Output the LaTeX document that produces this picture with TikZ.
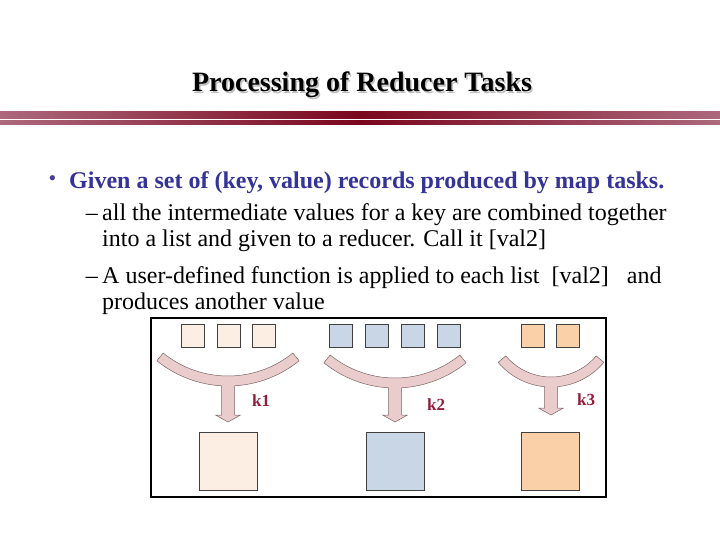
\documentclass[tikz,border=0pt]{standalone}
\usepackage{fontspec}
\setmainfont{Liberation Serif}
\definecolor{bluetext}{RGB}{51,51,153}
\definecolor{keyred}{RGB}{150,28,58}
\definecolor{peachlight}{RGB}{253,238,228}
\definecolor{steelblue}{RGB}{200,214,229}
\definecolor{peach}{RGB}{250,208,168}
\definecolor{funnelfill}{RGB}{234,204,204}
\definecolor{funneledge}{RGB}{125,100,100}
\definecolor{barmid}{RGB}{122,6,30}
\definecolor{baredge}{RGB}{172,104,124}

\tikzset{
  txt/.style={anchor=base west, inner sep=0pt, font=\fontsize{24}{28}\selectfont},
  sq/.style={draw=black!75, line width=0.8pt, minimum size=23.5pt, inner sep=0pt},
  bigsq/.style={draw=black!75, line width=0.8pt, minimum size=58pt, inner sep=0pt},
  keylabel/.style={anchor=base west, inner sep=0pt, text=keyred, font=\fontsize{17}{19}\selectfont\bfseries},
  funnel/.style={fill=funnelfill, draw=funneledge, line width=0.5pt, line join=miter}
}

% curved "merge" arrow: centre x, arc centre y, radius, half angle, tip y
\newcommand{\funnelarrow}[5]{%
  \pgfmathsetmacro{\fnOut}{#3+5}%
  \pgfmathsetmacro{\fnIn}{#3-5}%
  \pgfmathsetmacro{\fnDa}{asin(6.5/\fnOut)}%
  \pgfmathsetmacro{\fnTop}{#2+\fnOut*cos(\fnDa)}%
  \draw[funnel] ([shift={(90+#4:\fnOut)}]#1,#2)
    arc[start angle=90+#4, end angle=90+\fnDa, radius=\fnOut]
    -- (#1-6.5,#5-7) -- (#1-12.5,#5-7) -- (#1,#5) -- (#1+12.5,#5-7) -- (#1+6.5,#5-7)
    -- (#1+6.5,\fnTop)
    arc[start angle=90-\fnDa, end angle=90-#4, radius=\fnOut]
    -- ([shift={(90-#4:\fnIn)}]#1,#2)
    arc[start angle=90-#4, end angle=90+#4, radius=\fnIn]
    -- cycle;}

\begin{document}
\begin{tikzpicture}[x=1pt, y=-1pt]
\useasboundingbox (0,0) rectangle (720,540);

% title and rules
\node[anchor=base, inner sep=0pt, text=black!25, font=\fontsize{28}{32}\selectfont\bfseries] (titleshadow) at (363.5,93.5) {Processing of Reducer Tasks};
\node[anchor=base, inner sep=0pt, font=\fontsize{28}{32}\selectfont\bfseries] (title) at (362,92) {Processing of Reducer Tasks};
\shade[left color=baredge, right color=baredge, middle color=barmid] (0,112) rectangle (720,119);
\shade[left color=baredge, right color=baredge, middle color=barmid] (0,121) rectangle (720,125);

% bullet text
\node[anchor=center, inner sep=0pt, text=bluetext!80!gray, font=\fontsize{22}{24}\selectfont] (bullet) at (52.5,180.5) {•};
\node[txt, text=bluetext, font=\fontsize{24}{28}\selectfont\bfseries] (given) at (69,189) {Given a set of (key, value) records produced by map tasks.};
\node[txt, anchor=base east] (dash1) at (98,221) {–};
\node[txt] (line1) at (102,221) {all the intermediate values for a key are combined together};
\node[txt] (line2) at (102,247) {into a list and given to a reducer. Call it [val2]};
\node[txt, anchor=base east] (dash2) at (98,283) {–};
\node[txt] (line3) at (102,283) {A user-defined function is applied to each list~~[val2]~~~and};
\node[txt] (line4) at (102,309) {produces another value};

% picture frame
\draw[line width=2pt] (151,318) rectangle (606,497);

% input values
\foreach \x [count=\i] in {193,229,264}
  \node[sq, fill=peachlight] (ina\i) at (\x,336) {};
\foreach \x [count=\i] in {341,377,413,449}
  \node[sq, fill=steelblue] (inb\i) at (\x,336) {};
\foreach \x [count=\i] in {533,568}
  \node[sq, fill=peach] (inc\i) at (\x,336) {};

% merge arrows
\funnelarrow{228}{273}{108}{39}{422}
\funnelarrow{395}{275}{108}{39}{422}
\funnelarrow{551}{318}{64}{50}{415}

\node[keylabel] (k1) at (252,406) {k1};
\node[keylabel] (k2) at (427,410) {k2};
\node[keylabel] (k3) at (577,405) {k3};

% reducer outputs
\node[bigsq, fill=peachlight] (outa) at (228,461.5) {};
\node[bigsq, fill=steelblue] (outb) at (395,461.5) {};
\node[bigsq, fill=peach] (outc) at (550.5,461.5) {};
\end{tikzpicture}
\end{document}
